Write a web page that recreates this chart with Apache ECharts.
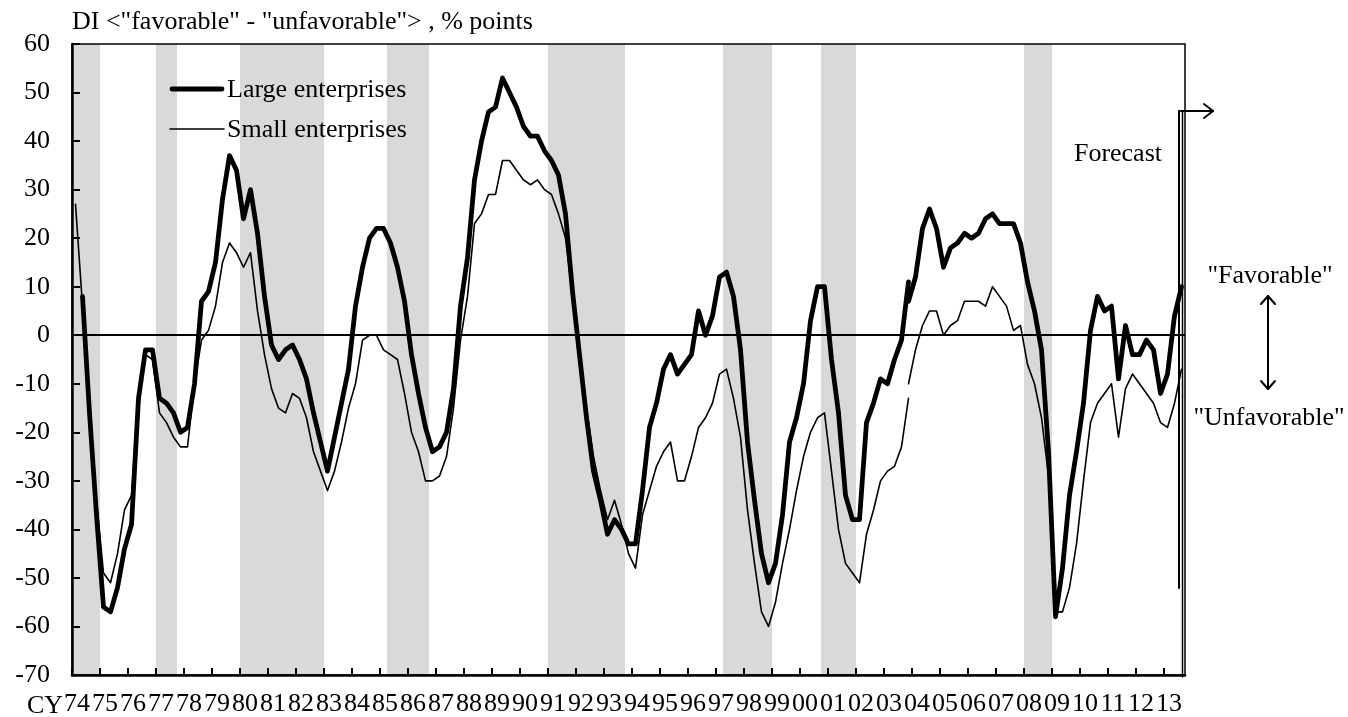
<!DOCTYPE html>
<html>
<head>
<meta charset="utf-8">
<title>Business conditions DI</title>
<script src="https://cdn.jsdelivr.net/npm/echarts@6/dist/echarts.min.js"></script>
<style>
html, body { margin: 0; padding: 0; background: #fff; }
#chart { width: 1348px; height: 717px; }
</style>
</head>
<body>
<div id="chart"></div>
<script>
// quarterly data, 1974Q1 .. 2013Q3 (last quarter is the forecast)
var startYear = 1974;
var yearLabels = ["74", "75", "76", "77", "78", "79", "80", "81", "82", "83",
  "84", "85", "86", "87", "88", "89", "90", "91", "92", "93",
  "94", "95", "96", "97", "98", "99", "00", "01", "02", "03",
  "04", "05", "06", "07", "08", "09", "10", "11", "12", "13"];

var large = [
  null, 8, -16, -37,   -56, -57, -52, -44,   -39, -13, -3, -3,   -13, -14, -16, -20,
  -19, -10, 7, 9,      15, 28, 37, 34,       24, 30, 21, 8,      -2, -5, -3, -2,
  -5, -9, -16, -22,    -28, -21, -14, -7,    6, 14, 20, 22,      22, 19, 14, 7,
  -4, -12, -19, -24,   -23, -20, -11, 6,     16, 32, 40, 46,     47, 53, 50, 47,
  43, 41, 41, 38,      36, 33, 25, 9,        -4, -17, -28, -34,  -41, -38, -40, -43,
  -43, -32, -19, -14,  -7, -4, -8, -6,       -4, 5, 0, 4,        12, 13, 8, -3,
  -22, -34, -45, -51,  -47, -37, -22, -17,   -10, 3, 10, 10,     -5, -16, -33, -38,
  -38, -18, -14, -9,   -10, -5, -1, 7,       12, 22, 26, 22,     14, 18, 19, 21,
  20, 21, 24, 25,      23, 23, 23, 19,       11, 5, -3, -24,     -58, -48, -33, -24,
  -14, 1, 8, 5,        6, -9, 2, -4,         -4, -1, -3, -12,    -8, 4, 10
];

var small = [
  27, 6, -17, -34,     -49, -51, -45, -36,   -33, -12, -4, -5,   -16, -18, -21, -23,
  -23, -10, -1, 1,     6, 15, 19, 17,        14, 17, 5, -4,      -11, -15, -16, -12,
  -13, -17, -24, -28,  -32, -28, -22, -15,   -10, -1, 0, 0,      -3, -4, -5, -12,
  -20, -24, -30, -30,  -29, -25, -15, -1,    8, 23, 25, 29,      29, 36, 36, 34,
  32, 31, 32, 30,      29, 25, 20, 8,        -6, -15, -25, -32,  -38, -34, -39, -45,
  -48, -37, -32, -27,  -24, -22, -30, -30,   -25, -19, -17, -14, -8, -7, -13, -21,
  -36, -47, -57, -60,  -55, -47, -40, -32,   -25, -20, -17, -16, -28, -40, -47, -49,
  -51, -41, -36, -30,  -28, -27, -23, -10,   -3, 2, 5, 5,        0, 2, 3, 7,
  7, 7, 6, 10,         8, 6, 1, 2,           -6, -10, -17, -29,  -57, -57, -52, -43,
  -30, -18, -14, -12,  -10, -21, -11, -8,    -10, -12, -14, -18, -19, -14, -7
];

// survey revision: 2003Q4 exists on both the old and the new basis
var revisionQuarter = "03Q4";
var largeOldBasis = 11;
var smallOldBasis = -13;

// recession periods (shaded), first and last quarter
var recessions = [
  ["74Q1", "74Q4"], ["77Q1", "77Q3"], ["80Q1", "82Q4"], ["85Q2", "86Q3"],
  ["91Q1", "93Q3"], ["97Q2", "98Q4"], ["00Q4", "01Q4"], ["08Q1", "08Q4"]
];

var yMin = -70, yMax = 60, yStep = 10;

function qIndex(s) {
  var yy = parseInt(s.slice(0, 2), 10);
  var year = yy < 50 ? 2000 + yy : 1900 + yy;
  return (year - startYear) * 4 + parseInt(s.slice(3), 10) - 1;
}

function toPoints(values, from, to) {
  var out = [];
  for (var i = from; i <= to; i++) {
    if (values[i] != null) out.push([i + 0.5, values[i]]);
  }
  return out;
}

var nQ = large.length;
var rev = qIndex(revisionQuarter);

var largeOld = toPoints(large, 0, rev - 1).concat([[rev + 0.5, largeOldBasis]]);
var largeNew = toPoints(large, rev, nQ - 1);
var smallOld = toPoints(small, 0, rev - 1).concat([[rev + 0.5, smallOldBasis]]);
var smallNew = toPoints(small, rev, nQ - 1);

var serif = '"Liberation Serif", "Times New Roman", serif';
var fs = 26;
var font = fs + "px " + serif;
var wLarge = 4.8, wSmall = 1.6;

var chart = echarts.init(document.getElementById("chart"));

function lineSeries(name, data, width) {
  return {
    name: name,
    type: "line",
    data: data,
    symbol: "none",
    z: 3,
    lineStyle: { color: "#000", width: width, join: "round", cap: "round" },
    emphasis: { disabled: true }
  };
}

function txt(x, y, s, align) {
  return { type: "text", x: x, y: y, z: 20,
    style: { text: s, font: font, fill: "#000", align: align || "left", verticalAlign: "middle" } };
}

function seg(points, w) {
  return { type: "polyline", z: 20, shape: { points: points },
    style: { stroke: "#000", lineWidth: w, fill: null, lineCap: "round", lineJoin: "round" } };
}

chart.setOption({
  animation: false,
  grid: {
    left: 72, right: 163, top: 44, bottom: 40,
    show: true, borderColor: "#000", borderWidth: 1.5, z: 10
  },
  xAxis: {
    type: "value",
    z: 10,
    min: 0,
    max: nQ,
    interval: 4,
    splitLine: { show: false },
    axisLine: { onZero: false, lineStyle: { color: "#000", width: 2.5 } },
    axisTick: { inside: true, length: 7, lineStyle: { color: "#000", width: 2 } },
    axisLabel: {
      showMaxLabel: false,
      margin: 16,
      padding: [0, 0, 0, 10],
      fontFamily: serif,
      fontSize: fs,
      color: "#000",
      formatter: function (v) {
        var k = v / 4;
        return (k === Math.floor(k) && k < yearLabels.length) ? yearLabels[k] : "";
      }
    }
  },
  yAxis: {
    type: "value",
    z: 10,
    min: yMin,
    max: yMax,
    interval: yStep,
    splitLine: { show: false },
    axisLine: { show: true, lineStyle: { color: "#000", width: 2.5 } },
    axisTick: { show: true, inside: true, length: 8, lineStyle: { color: "#000", width: 2 } },
    axisLabel: { margin: 22, fontFamily: serif, fontSize: fs, color: "#000" }
  },
  series: [
    {
      name: "bands",
      type: "line",
      data: [],
      z: 1,
      silent: true,
      markArea: {
        silent: true,
        itemStyle: { color: "#d9d9d9" },
        data: recessions.map(function (r) {
          return [{ xAxis: qIndex(r[0]) }, { xAxis: qIndex(r[1]) + 1 }];
        })
      },
      markLine: {
        silent: true,
        symbol: "none",
        label: { show: false },
        lineStyle: { color: "#000", width: 2, type: "solid" },
        data: [{ yAxis: 0 }]
      }
    },
    lineSeries("Large enterprises", largeOld, wLarge),
    lineSeries("Large enterprises", largeNew, wLarge),
    lineSeries("Small enterprises", smallOld, wSmall),
    lineSeries("Small enterprises", smallNew, wSmall)
  ],
  graphic: [
    { type: "text", left: 72, top: 9, z: 20,
      style: { text: 'DI <"favorable" - "unfavorable"> , % points', font: font, fill: "#000" } },
    txt(63, 706, "CY", "right"),
    // legend
    seg([[172, 89], [222, 89]], wLarge),
    txt(227, 90, "Large enterprises"),
    seg([[170, 129], [224, 129]], wSmall),
    txt(227, 130, "Small enterprises"),
    // forecast marker
    txt(1162, 154, "Forecast", "right"),
    seg([[1179, 588], [1179, 111], [1213, 111]], 2),
    seg([[1182.5, 111], [1182.5, 677]], 1.5),
    seg([[1204, 104], [1213, 111], [1204, 118]], 2),
    // favorable / unfavorable
    txt(1270, 276, '"Favorable"', "center"),
    txt(1269, 418, '"Unfavorable"', "center"),
    seg([[1268, 296], [1268, 389]], 2),
    seg([[1261, 304], [1268, 296], [1275, 304]], 2),
    seg([[1261, 381], [1268, 389], [1275, 381]], 2)
  ]
});
</script>
</body>
</html>
